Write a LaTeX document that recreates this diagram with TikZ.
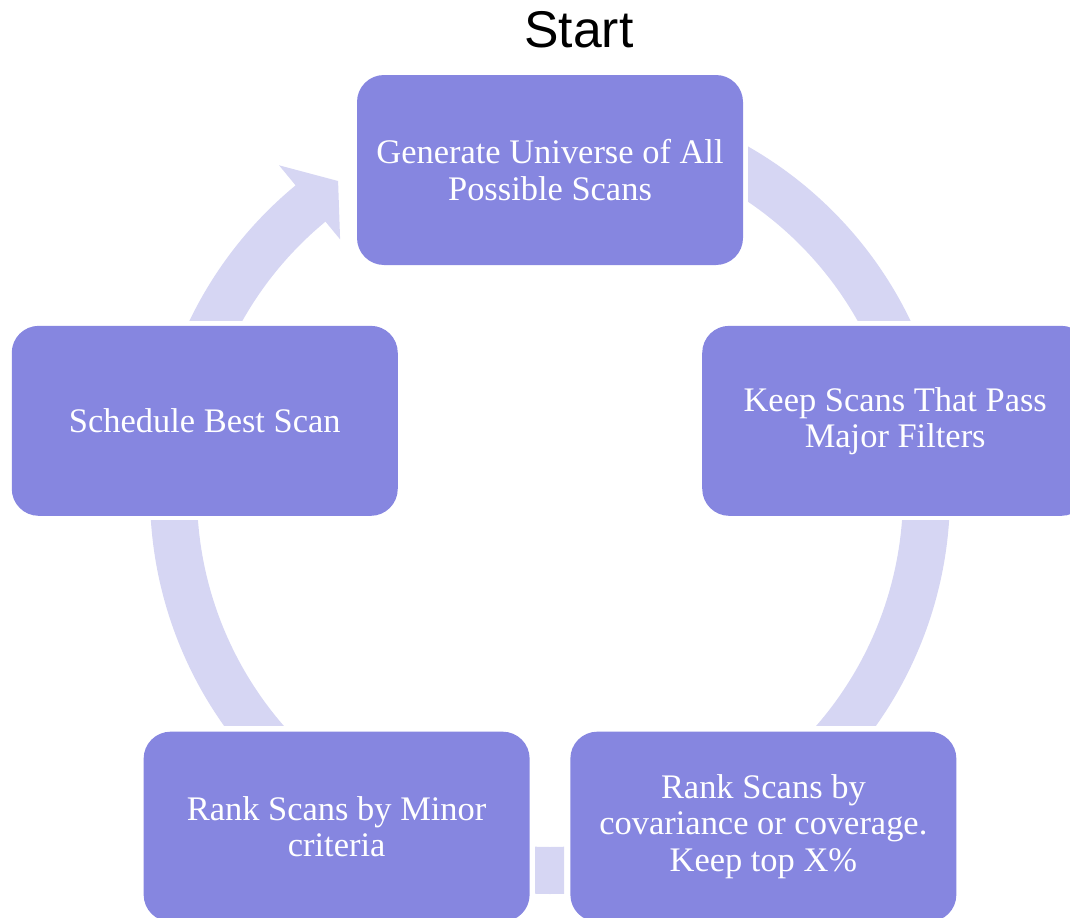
\documentclass[tikz,border=0pt]{standalone}
\usepackage{fontspec}
\setmainfont{Liberation Serif}
\newfontfamily\startfont{Liberation Sans}
\definecolor{boxblue}{RGB}{134,134,224}
\definecolor{ringblue}{RGB}{214,214,243}

\begin{document}
\begin{tikzpicture}[
    stepbox/.style={rectangle,rounded corners=2.7mm,fill=boxblue,text=white,
      minimum width=3.86cm,minimum height=1.9cm,align=center,
      font=\fontsize{9.8}{10.3}\selectfont},
    ring/.style={draw=ringblue,line width=4.7mm}
  ]
  \def\rmid{3.765}
  \def\rad{3.63}
  \useasboundingbox (0,0) rectangle (10.7,-9.18);
  \clip (0,0) rectangle (10.7,-9.18);
  \coordinate (ctr) at (5.5,-4.94);
  \coordinate (mid) at (5.5,-5.33);
  % ring pieces between the boxes
  \begin{scope}
    \clip (7.48,0) rectangle (10.7,-3.2);
    \draw[ring] (ctr) ++(70:\rmid) arc[start angle=70,end angle=15,radius=\rmid];
  \end{scope}
  \begin{scope}
    \clip (5.5,-5.2) rectangle (10.7,-7.25);
    \draw[ring] (ctr) ++(5:\rmid) arc[start angle=5,end angle=-55,radius=\rmid];
  \end{scope}
  \begin{scope}
    \clip (5.35,-7) rectangle (5.64,-9.18);
    \draw[ring] (ctr) ++(260:\rmid) arc[start angle=260,end angle=280,radius=\rmid];
  \end{scope}
  \begin{scope}
    \clip (0,-5.2) rectangle (5.5,-7.25);
    \draw[ring] (ctr) ++(235:\rmid) arc[start angle=235,end angle=175,radius=\rmid];
  \end{scope}
  \begin{scope}
    \clip (0,0) rectangle (5.5,-3.2);
    \draw[ring] (ctr) ++(165:\rmid) arc[start angle=165,end angle=128.5,radius=\rmid];
  \end{scope}
  \fill[ringblue] ([shift={(129.5:4.26)}]ctr) -- ([shift={(124.1:3.78)}]ctr)
    -- ([shift={(129.5:3.30)}]ctr) -- cycle;
  % the five steps
  \node[stepbox] (gen) at ([shift={(90:\rad)}]mid) {Generate Universe of All\\Possible Scans};
  \node[stepbox] (keep) at ([shift={(18:\rad)}]mid) {Keep Scans That Pass\\Major Filters};
  \node[stepbox] (rank) at ([shift={(-54:\rad)}]mid) {Rank Scans by\\covariance or coverage.\\Keep top X\%};
  \node[stepbox] (minor) at ([shift={(-126:\rad)}]mid) {Rank Scans by Minor\\criteria};
  \node[stepbox] (sched) at ([shift={(162:\rad)}]mid) {Schedule Best Scan};
  \node[font=\startfont\fontsize{14.7}{16}\selectfont,anchor=base] (start) at (5.79,-0.47) {Start};
\end{tikzpicture}
\end{document}
